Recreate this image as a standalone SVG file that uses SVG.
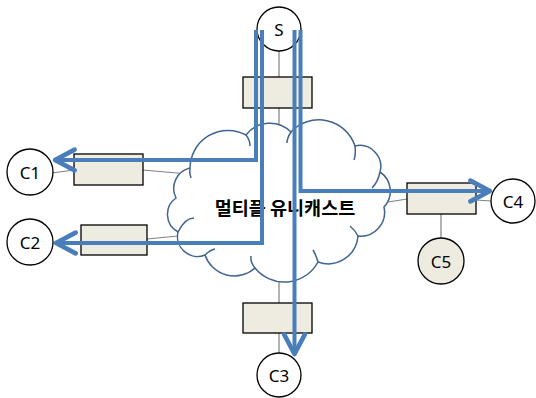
<svg xmlns="http://www.w3.org/2000/svg" width="536" height="398" viewBox="0 0 536 398">
  <style>
    .node { fill: #ffffff; stroke: #000000; stroke-width: 1.3; }
    .node.shade { fill: #eeece1; }
    .box { fill: #eeece1; stroke: #000000; stroke-width: 1.3; }
    .link { stroke: #808080; stroke-width: 1.2; fill: none; }
    .flow { stroke: #4a7ebb; stroke-width: 4; fill: none; stroke-linejoin: miter; }
    .cloud { fill: #ffffff; stroke: #41638f; stroke-width: 1.5; }
    .cloud-in { fill: none; stroke: #41638f; stroke-width: 1.5; }
    .lbl { font-family: "Noto Sans", "Noto Sans CJK KR", sans-serif; font-size: 17px; fill: #000000; text-anchor: middle; dominant-baseline: central; }
    .title { font-family: "Noto Sans CJK KR", sans-serif; font-size: 18.5px; font-weight: bold; fill: #000000; text-anchor: middle; dominant-baseline: central; }
  </style>
  <defs>
    <marker id="head" markerUnits="userSpaceOnUse" markerWidth="30" markerHeight="30" refX="0" refY="0" viewBox="-22 -13 26 26" orient="auto">
      <path d="M-17,-9 L0,0 L-17,9" fill="none" stroke="#4a7ebb" stroke-width="4" stroke-linejoin="round" stroke-linecap="round"/>
    </marker>
  </defs>

  <!-- thin links between hosts, boxes and the network -->
  <g id="links">
    <line class="link" x1="279" y1="51" x2="279" y2="77"/>
    <line class="link" x1="279" y1="108" x2="279" y2="132"/>
    <line class="link" x1="279" y1="278" x2="279" y2="303"/>
    <line class="link" x1="279" y1="333" x2="279" y2="353"/>
    <line class="link" x1="52" y1="173" x2="74" y2="170"/>
    <line class="link" x1="143" y1="170" x2="188" y2="174"/>
    <line class="link" x1="52" y1="243" x2="81" y2="242"/>
    <line class="link" x1="147" y1="239" x2="178" y2="236"/>
    <line class="link" x1="382" y1="203" x2="407" y2="199"/>
    <line class="link" x1="476" y1="200" x2="491" y2="201"/>
    <line class="link" x1="441" y1="214" x2="441" y2="238"/>
  </g>

  <!-- network cloud -->
  <g id="cloud">
    <path class="cloud" d="M190,168 A38,38 0 0 1 246,135 A30,30 0 0 1 291,132 A38,38 0 0 1 355,146 A21,21 0 0 1 380,172 A23,23 0 0 1 384,207 A24,24 0 0 1 358,236 A30,30 0 0 1 318,262 A38,38 0 0 1 255,268 A31,31 0 0 1 205,255 A20,20 0 0 1 178,232 A20,20 0 0 1 176,198 A21,21 0 0 1 190,168 Z"/>
    <path class="cloud-in" d="M190,168 Q189,173 191,178"/>
    <path class="cloud-in" d="M178,232 Q185,218 194,218"/>
    <path class="cloud-in" d="M246,135 Q250,140 250,146"/>
    <path class="cloud-in" d="M291,132 Q287,138 287,143"/>
    <path class="cloud-in" d="M355,146 Q356,154 354,160"/>
    <path class="cloud-in" d="M380,172 Q378,182 372,188"/>
    <path class="cloud-in" d="M358,236 Q355,230 350,226"/>
    <path class="cloud-in" d="M318,262 Q316,255 313,250"/>
    <path class="cloud-in" d="M255,268 Q250,262 251,256"/>
    <path class="cloud-in" d="M205,255 Q210,250 215,249"/>
    <text class="title" x="285" y="207">멀티플 유니캐스트</text>
  </g>

  <!-- boxes -->
  <g id="box-top"><rect class="box" x="243" y="77" width="69" height="31"/></g>
  <g id="box-c1"><rect class="box" x="74" y="154" width="69" height="31"/></g>
  <g id="box-c2"><rect class="box" x="81" y="225" width="66" height="30"/></g>
  <g id="box-c4"><rect class="box" x="407" y="183" width="69" height="31"/></g>
  <g id="box-bottom"><rect class="box" x="243" y="303" width="69" height="30"/></g>

  <!-- hosts -->
  <g id="S"><circle class="node" cx="279" cy="29" r="22"/><text class="lbl" x="279" y="29">S</text></g>
  <g id="C1"><circle class="node" cx="30" cy="172" r="23"/><text class="lbl" x="30" y="172">C1</text></g>
  <g id="C2"><circle class="node" cx="30" cy="242" r="23"/><text class="lbl" x="30" y="242">C2</text></g>
  <g id="C3"><circle class="node" cx="279" cy="375" r="22"/><text class="lbl" x="279" y="375">C3</text></g>
  <g id="C4"><circle class="node" cx="513" cy="201" r="22"/><text class="lbl" x="513" y="201">C4</text></g>
  <g id="C5"><circle class="node shade" cx="441" cy="261" r="23"/><text class="lbl" x="441" y="261">C5</text></g>

  <!-- unicast flows from S to each receiver -->
  <g id="flows">
    <polyline class="flow" points="256,30 256,160 55,160" marker-end="url(#head)"/>
    <polyline class="flow" points="262,30 262,243 56,243" marker-end="url(#head)"/>
    <polyline class="flow" points="294.5,30 294.5,354" marker-end="url(#head)"/>
    <polyline class="flow" points="300.5,30 300.5,191 490,191" marker-end="url(#head)"/>
  </g>
</svg>
